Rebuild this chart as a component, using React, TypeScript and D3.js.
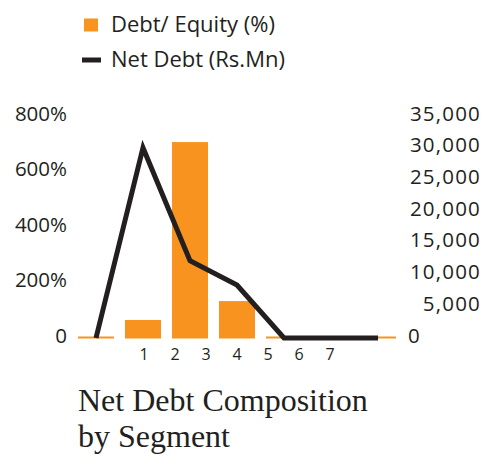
import React from "react";
import * as d3 from "d3";

const slots = ["s0", "s1", "s2", "s3", "s4", "s5", "s6"];
const debtEquity = [0, 65, 706, 133, 0, 0, 0];
const netDebt = [0, 30000, 12200, 8350, 0, 0, 0];
const xTickLabels = ["1", "2", "3", "4", "5", "6", "7"];
const leftTicks = [0, 200, 400, 600, 800];
const rightTicks = [0, 5000, 10000, 15000, 20000, 25000, 30000, 35000];
const legendItems = ["Debt/ Equity (%)", "Net Debt (Rs.Mn)"];
const titleLines = ["Net Debt Composition", "by Segment"];

const ORANGE = "#F7931E";
const DARK = "#231F20";
const SANS = "'Open Sans', 'DejaVu Sans', sans-serif";

export default function App() {
  const W = 485;
  const H = 455;
  const x = d3.scaleBand<string>().domain(slots).range([72.5, 401.5]).paddingInner(0.234).paddingOuter(0.117);
  const yL = d3.scaleLinear().domain([0, 800]).range([338, 116]);
  const yR = d3.scaleLinear().domain([0, 35000]).range([338, 116]);
  const xl = d3.scalePoint<string>().domain(xTickLabels).range([144, 330]);

  const line = d3
    .line<number>()
    .x((_, i) => (x(slots[i]) as number) + x.bandwidth() / 2)
    .y((d) => yR(d));

  const fmt = d3.format(",");

  return (
    <div style={{ position: "absolute", left: 0, top: 0 }}>
      <svg width={W} height={H} style={{ display: "block", background: "#fff" }}>
        {/* legend */}
        <rect x={84} y={18.5} width={14} height={13} fill={ORANGE} />
        <text x={111} y={32} fontFamily={SANS} fontSize={22} fill={DARK}>
          {legendItems[0]}
        </text>
        <line x1={82} x2={101} y1={60} y2={60} stroke={DARK} strokeWidth={5} />
        <text x={111} y={67} fontFamily={SANS} fontSize={22} fill={DARK}>
          {legendItems[1]}
        </text>

        {/* bars */}
        {debtEquity.map((v, i) => {
          const top = Math.min(yL(v), yL(0) - 1.5);
          return (
            <rect
              key={i}
              x={x(slots[i])}
              y={top}
              width={x.bandwidth()}
              height={yL(0) - top + 0.5}
              fill={ORANGE}
            />
          );
        })}

        {/* line */}
        <path d={line(netDebt) || ""} fill="none" stroke={DARK} strokeWidth={5} strokeLinejoin="miter" />

        {/* left axis */}
        {leftTicks.map((t) => (
          <text
            key={t}
            x={67}
            y={yL(t) + 4.5}
            textAnchor="end"
            fontFamily={SANS}
            fontSize={20.5}
            fill={DARK}
          >
            {t === 0 ? "0" : `${t}%`}
          </text>
        ))}

        {/* right axis */}
        {rightTicks.map((t) => (
          <text
            key={t}
            x={t === 0 ? 408 : 481}
            y={yR(t) + 4.5}
            textAnchor={t === 0 ? "start" : "end"}
            fontFamily={SANS}
            fontSize={20.5}
            letterSpacing={1.2}
            fill={DARK}
          >
            {fmt(t)}
          </text>
        ))}

        {/* x labels */}
        {xTickLabels.map((l) => (
          <text key={l} x={xl(l)} y={360} textAnchor="middle" fontFamily={SANS} fontSize={16} fill={DARK}>
            {l}
          </text>
        ))}

        {/* title */}
        {titleLines.map((t, i) => (
          <text
            key={t}
            x={78}
            y={411 + i * 36}
            fontFamily="'Liberation Serif', 'Times New Roman', serif"
            fontSize={32}
            fill={DARK}
          >
            {t}
          </text>
        ))}
      </svg>
    </div>
  );
}
